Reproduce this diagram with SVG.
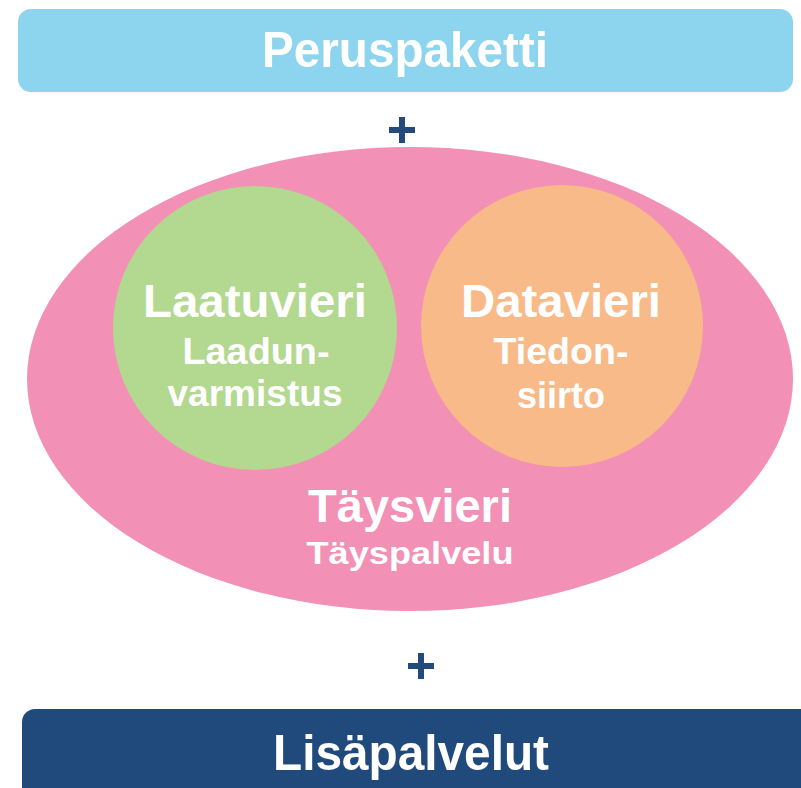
<svg xmlns="http://www.w3.org/2000/svg" width="801" height="788" viewBox="0 0 801 788">
<style>
.t{font-family:"Liberation Sans Narrow","Liberation Sans",Arial,sans-serif;font-weight:bold;fill:#fff;text-anchor:middle}
.b{font-family:"Liberation Sans",Arial,sans-serif;font-weight:bold;fill:#fff;text-anchor:middle}
.plus{fill:#234A7C}
</style>
<rect width="801" height="788" fill="#fff"/>
<g id="peruspaketti">
<rect x="18" y="9" width="775" height="83" rx="13" fill="#8DD5EF"/>
<text class="t" x="405" y="67" font-size="50" textLength="286" lengthAdjust="spacingAndGlyphs">Peruspaketti</text>
</g>
<g id="plus1"><path class="plus" d="M389 127h26v6h-26z M399 117h6v26h-6z"/></g>
<g id="taysvieri">
<ellipse cx="410" cy="379" rx="383" ry="232" fill="#F291B5"/>
<text class="b" x="410" y="522" font-size="47" textLength="204" lengthAdjust="spacingAndGlyphs">Täysvieri</text>
<text class="b" x="410" y="564" font-size="32" textLength="207" lengthAdjust="spacingAndGlyphs">Täyspalvelu</text>
</g>
<g id="laatuvieri">
<circle cx="255" cy="328" r="142" fill="#B3D88F"/>
<text class="b" x="255" y="317" font-size="46" textLength="224" lengthAdjust="spacingAndGlyphs">Laatuvieri</text>
<text class="b" x="256" y="364" font-size="36" textLength="147" lengthAdjust="spacingAndGlyphs">Laadun-</text>
<text class="b" x="255" y="406" font-size="36" textLength="175" lengthAdjust="spacingAndGlyphs">varmistus</text>
</g>
<g id="datavieri">
<ellipse cx="562" cy="326" rx="141" ry="141" fill="#F8BA88"/>
<text class="b" x="561" y="317" font-size="46" textLength="200" lengthAdjust="spacingAndGlyphs">Datavieri</text>
<text class="b" x="561" y="364" font-size="36" textLength="135" lengthAdjust="spacingAndGlyphs">Tiedon-</text>
<text class="b" x="561" y="408" font-size="36" textLength="88" lengthAdjust="spacingAndGlyphs">siirto</text>
</g>
<g id="plus2"><path class="plus" d="M408 663h26v6h-26z M418 653h6v26h-6z"/></g>
<g id="lisapalvelut">
<rect x="22" y="709" width="800" height="100" rx="13" fill="#214A7C"/>
<text class="t" x="411" y="770" font-size="50" textLength="276" lengthAdjust="spacingAndGlyphs">Lisäpalvelut</text>
</g>
<g id="connectors"/>
</svg>
